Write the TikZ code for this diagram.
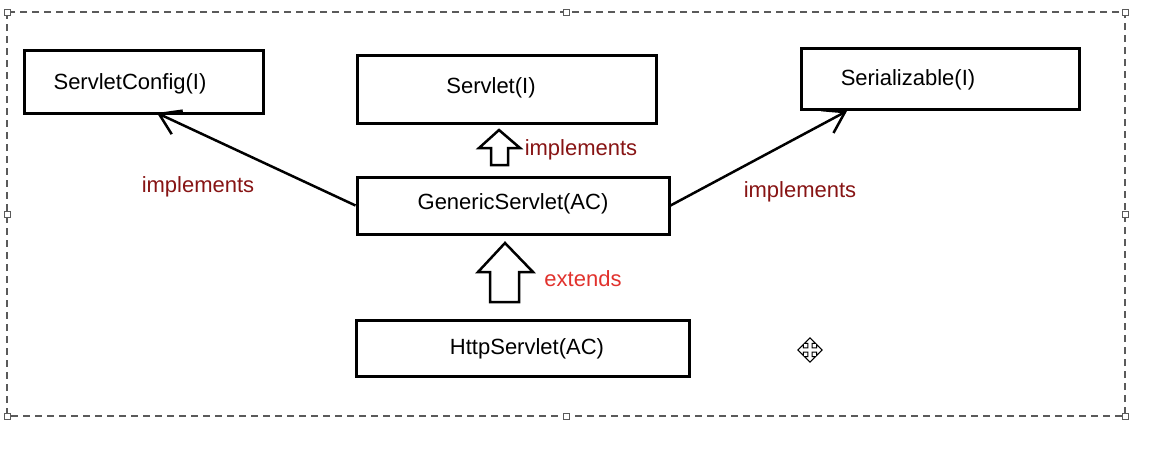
\documentclass[tikz,border=0pt]{standalone}
\usepackage{fontspec}
\setmainfont{Liberation Sans}
\usetikzlibrary{arrows.meta}
\definecolor{implred}{RGB}{135,20,20}
\definecolor{extred}{RGB}{225,50,45}
\definecolor{framegray}{RGB}{90,90,90}

\begin{document}
\begin{tikzpicture}[x=1pt, y=-1pt,
    box/.style={draw, line width=3pt, rectangle, inner sep=0pt, font=\fontsize{22}{26}\selectfont},
    lbl/.style={font=\fontsize{22}{26}\selectfont, inner sep=0pt, yshift=-2pt},
    handle/.style={draw=framegray, fill=white, line width=1pt, rectangle, minimum size=6pt, inner sep=0pt}]
			\useasboundingbox (0,0) rectangle (1153,453);
			% Selection frame
			\draw[framegray, line width=1.2pt, dash pattern=on 7pt off 5pt] (7,12) rectangle (1125,416);
			\foreach \hx/\hy in {7/12, 566/12, 1125/12, 7/214, 1125/214, 7/416, 566/416, 1125/416}
				\node[handle] at (\hx,\hy) {};
			% Nodes
			\node[box, minimum width=239pt, minimum height=63pt] (config) at (143.5,81.5) {};
			\node[lbl] (configtext) at (130,82) {ServletConfig(I)};
			\node[box, minimum width=299pt, minimum height=68pt] (servlet) at (506.5,89) {};
			\node[lbl] (servlettext) at (491,86) {Servlet(I)};
			\node[box, minimum width=278pt, minimum height=61pt] (serial) at (940,78.5) {};
			\node[lbl] (serialtext) at (908,78) {Serializable(I)};
			\node[box, minimum width=312pt, minimum height=57pt] (generic) at (513,205.5) {};
			\node[lbl] (generictext) at (513,202) {GenericServlet(AC)};
			\node[box, minimum width=333pt, minimum height=56pt] (http) at (522.5,348) {};
			\node[lbl] (httptext) at (527,347) {HttpServlet(AC)};
			% Edges with labels
			\draw[line width=2.5pt, -{Straight Barb[length=20pt, width=26pt, line width=2.5pt]}] (generic.west) -- (157,113);
			\draw[line width=2.5pt, -{Straight Barb[length=20pt, width=26pt, line width=2.5pt]}] (generic.east) -- (847,111);
			\node[lbl, text=implred] (impl1) at (198,185) {implements};
			\node[lbl, text=implred] (impl3) at (800,190) {implements};
			% Block arrows
			\draw[line width=2.5pt, line join=miter] (499,130) -- (520,148) -- (508,148) -- (508,165) -- (491,165) -- (491,148) -- (479,148) -- cycle;
			\node[lbl, text=implred] (impl2) at (581,148) {implements};
			\draw[line width=2.5pt, line join=miter] (505,243) -- (533,272) -- (519,272) -- (519,302) -- (490,302) -- (490,272) -- (478,272) -- cycle;
			\node[lbl, text=extred] (ext) at (583,277) {extends};
			% Move cursor
			\draw[line width=1pt, fill=white, shift={(810,350)}, scale=1.1] (0,-11) -- (5,-6) -- (2,-6) -- (2,-2) -- (6,-2) -- (6,-5) -- (11,0) -- (6,5) -- (6,2) -- (2,2) -- (2,6) -- (5,6) -- (0,11) -- (-5,6) -- (-2,6) -- (-2,2) -- (-6,2) -- (-6,5) -- (-11,0) -- (-6,-5) -- (-6,-2) -- (-2,-2) -- (-2,-6) -- (-5,-6) -- cycle;
		\end{tikzpicture}
\end{document}
